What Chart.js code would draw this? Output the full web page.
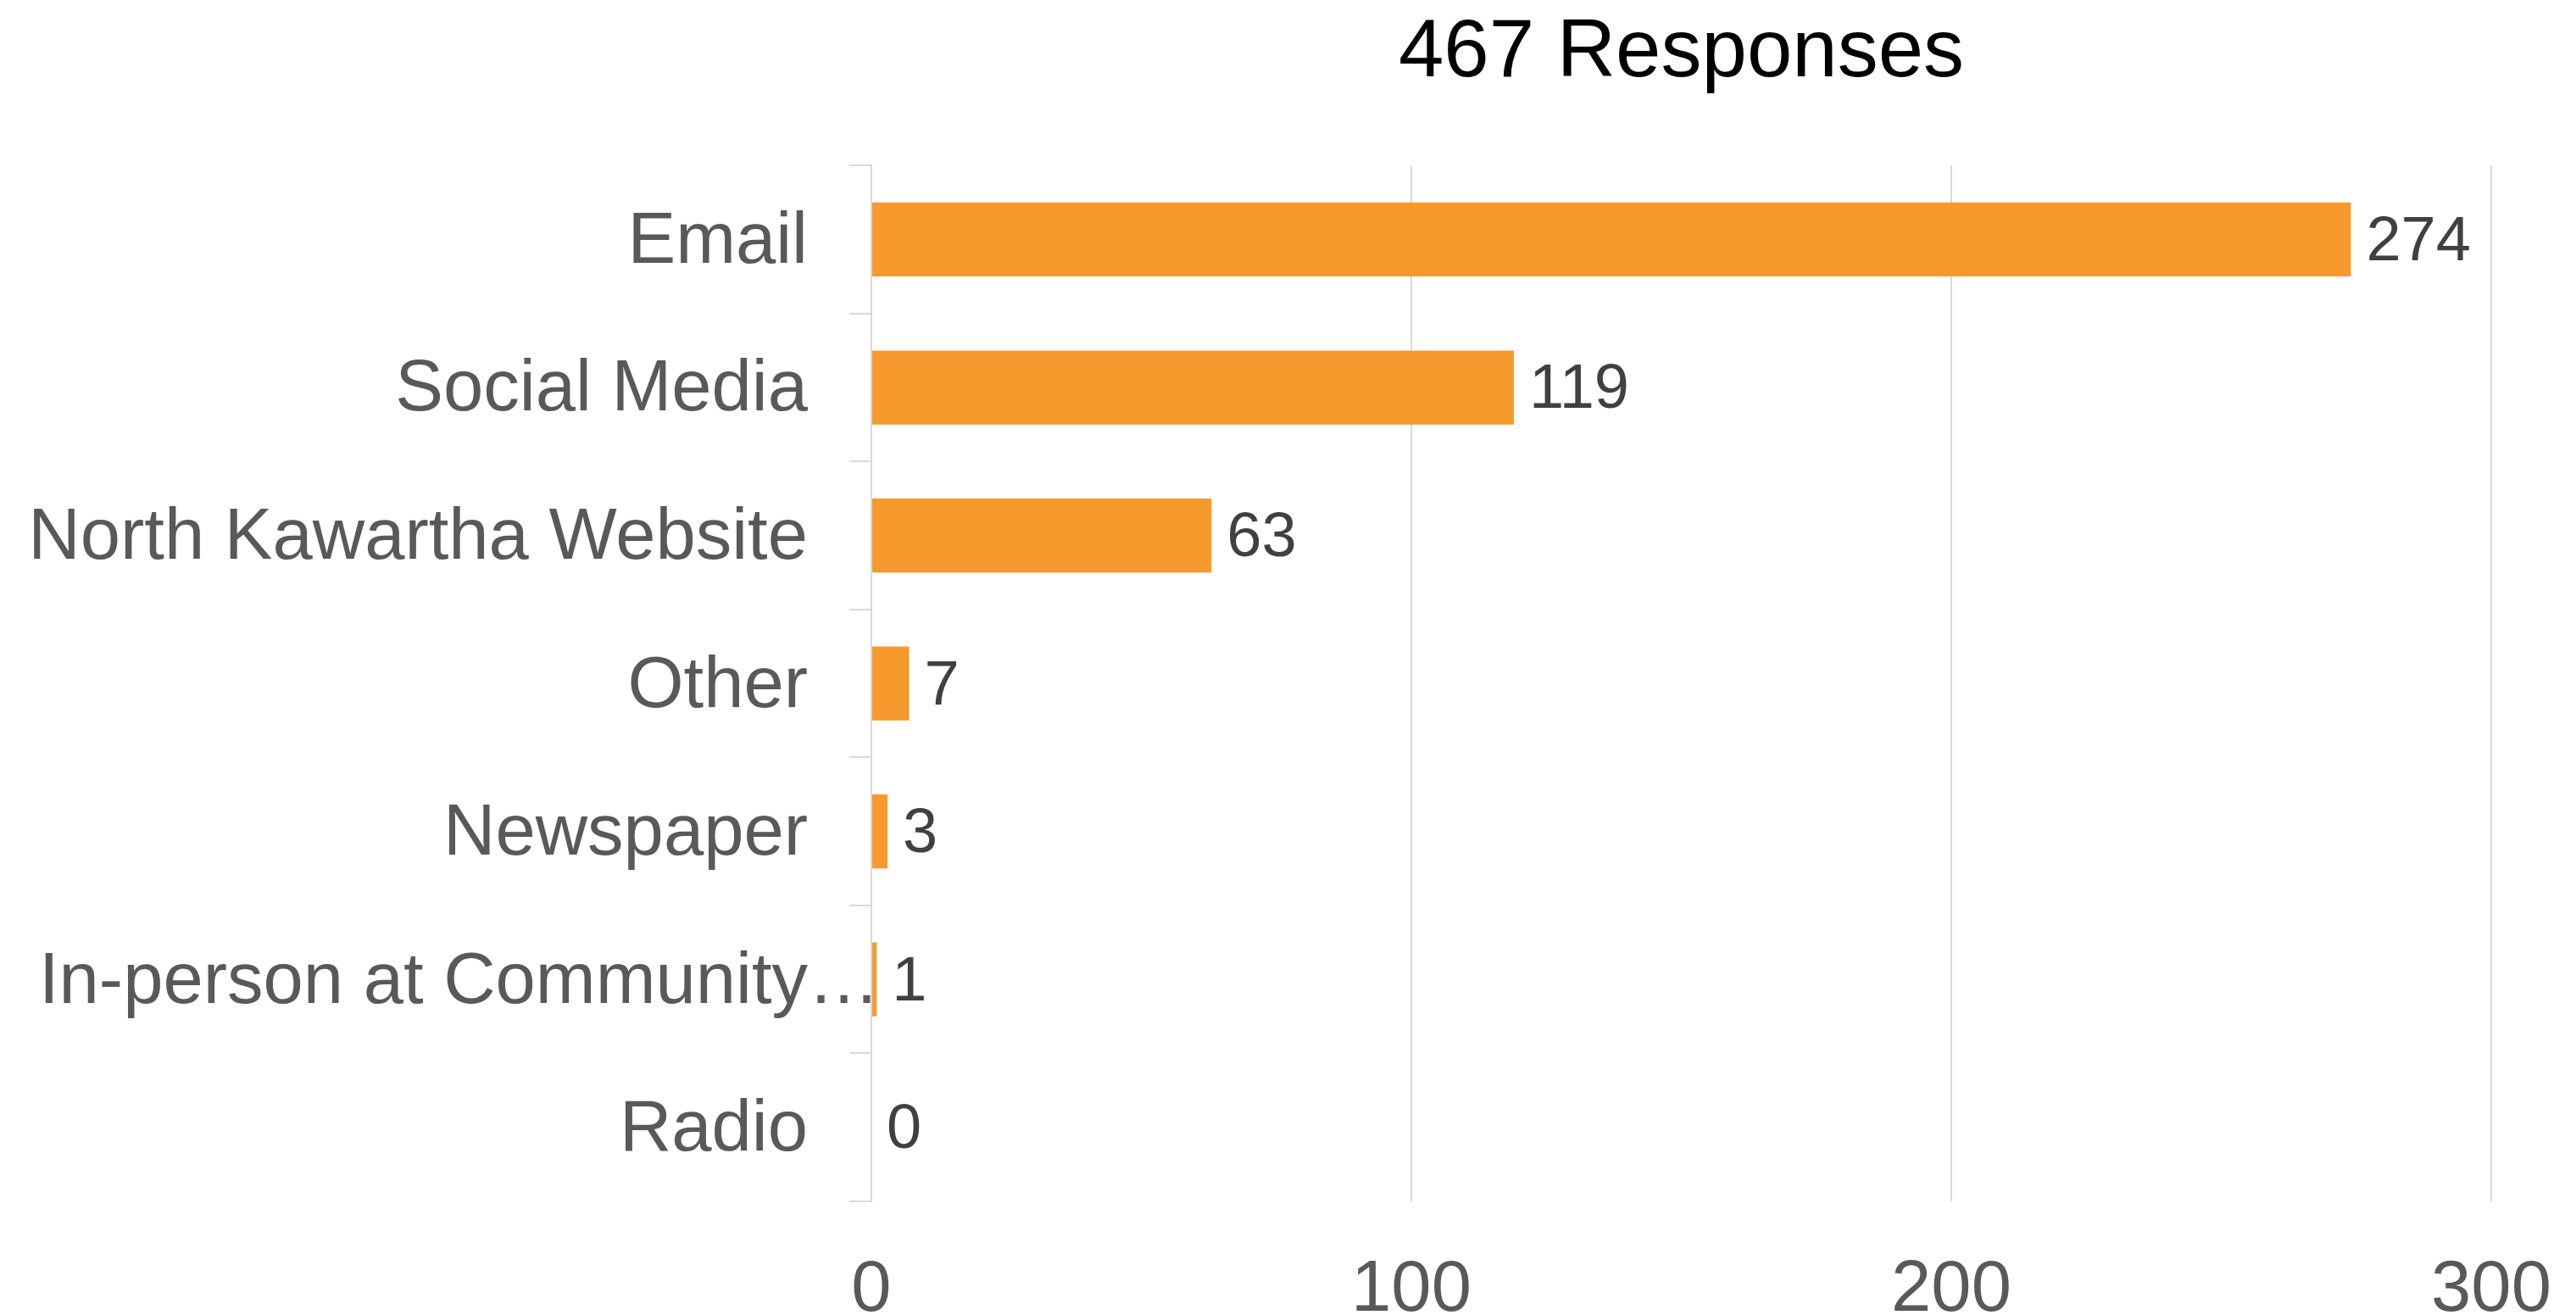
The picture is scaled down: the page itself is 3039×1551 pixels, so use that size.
<!DOCTYPE html>
<html>
<head>
<meta charset="utf-8">
<title>467 Responses</title>
<script src="https://cdn.jsdelivr.net/npm/chart.js@4.4.1/dist/chart.umd.min.js"></script>
<style>
  html, body { margin: 0; padding: 0; background: #fff; }
  #wrap { width: 3039px; height: 1551px; position: relative; }
</style>
</head>
<body>
<div id="wrap"><canvas id="responses"></canvas></div>
<script>
// ---- data ------------------------------------------------------------------
const TITLE = '467 Responses';
const categories = [
  'Email', 'Social Media', 'North Kawartha Website', 'Other',
  'Newspaper', 'In-person at Community…', 'Radio',
];
const counts = [274, 119, 63, 7, 3, 1, 0];
const xTicks = [0, 100, 200, 300];

// ---- look ------------------------------------------------------------------
const FONT = "'Liberation Sans', Arial, sans-serif";
const BAR = '#f79a2e';
const RULE = '#d9d9d9';
const ELLIPSIS = '…';
const TEXT_NUDGE = 4; // 'middle' baseline sits a touch high for this face

// Long labels keep their text flush with the others; the ellipsis hangs past the edge.
const hangingEllipsis = {
  id: 'hangingEllipsis',
  afterDraw(chart) {
    const y = chart.scales.y;
    const opts = y.options;
    const edge = y.right - opts.grid.tickLength - opts.ticks.padding;
    const ctx = chart.ctx;
    ctx.save();
    ctx.font = `${opts.ticks.font.size}px ${FONT}`;
    ctx.fillStyle = opts.ticks.color;
    ctx.textAlign = 'left';
    ctx.textBaseline = 'middle';
    categories.forEach((c, i) => {
      if (c.endsWith(ELLIPSIS)) ctx.fillText(ELLIPSIS, edge, y.getPixelForValue(i) + TEXT_NUDGE);
    });
    ctx.restore();
  },
};

// Count printed just past the end of each bar.
const barValues = {
  id: 'barValues',
  afterDatasetsDraw(chart) {
    const ctx = chart.ctx;
    const meta = chart.getDatasetMeta(0);
    ctx.save();
    ctx.font = `74px ${FONT}`;
    ctx.fillStyle = '#404040';
    ctx.textAlign = 'left';
    ctx.textBaseline = 'middle';
    meta.data.forEach((bar, i) => {
      ctx.fillText(String(counts[i]), bar.x + 18, bar.y + TEXT_NUDGE);
    });
    ctx.restore();
  },
};

new Chart(document.getElementById('responses'), {
  type: 'bar',
  data: {
    labels: categories,
    datasets: [{
      data: counts,
      backgroundColor: BAR,
      borderWidth: 0,
      barPercentage: 0.5,
      categoryPercentage: 1,
    }],
  },
  options: {
    indexAxis: 'y',
    responsive: true,
    maintainAspectRatio: false,
    animation: false,
    devicePixelRatio: 1,
    layout: { padding: { left: 0, right: 100, top: 0, bottom: 0 } },
    plugins: {
      legend: { display: false },
      tooltip: { enabled: false },
      title: {
        display: true,
        text: TITLE,
        fullSize: false,
        color: '#000',
        font: { family: FONT, size: 96, weight: 'normal', lineHeight: 1.2 },
        padding: { top: 6, bottom: 74 },
      },
    },
    scales: {
      x: {
        min: 0,
        max: 300,
        afterBuildTicks(s) { s.ticks = xTicks.map(v => ({ value: v })); },
        afterFit(s) { s.height = 134; s.paddingLeft = 0; s.paddingRight = 0; },
        border: { display: false },
        grid: { color: RULE, lineWidth: 2, drawTicks: false },
        ticks: { color: '#595959', padding: 55, font: { family: FONT, size: 85 } },
      },
      y: {
        afterFit(s) { s.width = 1028; s.paddingTop = 0; s.paddingBottom = 0; },
        border: { display: true, color: RULE, width: 2 },
        grid: {
          offset: true,
          drawOnChartArea: false,
          drawTicks: true,
          tickLength: 26,
          color: RULE,
          lineWidth: 2,
        },
        ticks: {
          color: '#595959',
          padding: 49,
          labelOffset: TEXT_NUDGE,
          font: { family: FONT, size: 85 },
          callback(v) {
            const c = categories[v];
            return c.endsWith(ELLIPSIS) ? c.slice(0, -ELLIPSIS.length) : c;
          },
        },
      },
    },
  },
  plugins: [barValues, hangingEllipsis],
});
</script>
</body>
</html>
